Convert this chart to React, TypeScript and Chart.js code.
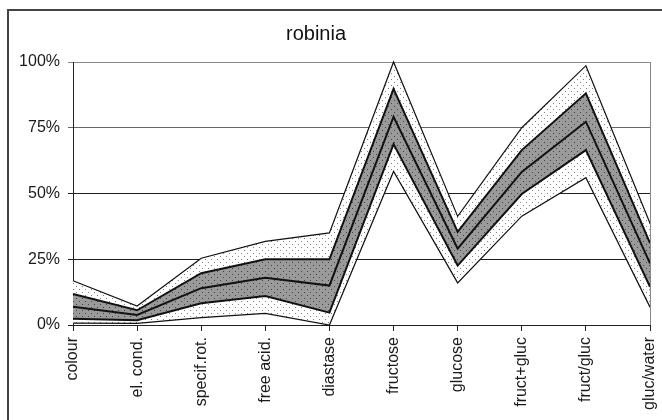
import React, { useEffect, useRef } from "react";
import { Chart, registerables } from "chart.js";

Chart.register(...registerables);

const categories = ["colour", "el. cond.", "specif.rot.", "free acid.", "diastase", "fructose", "glucose", "fruct+gluc", "fruct/gluc", "gluc/water"];
const maxValues = [16.8, 7.2, 25.4, 31.8, 35, 100, 41.3, 75, 98.6, 38.7];
const upperValues = [11.8, 5.6, 19.7, 25, 25, 89.8, 35.4, 66.5, 88.1, 31.1];
const medianValues = [6.9, 3.8, 14, 18, 15, 79.2, 29, 58.2, 77.3, 23.4];
const lowerValues = [2.4, 1.8, 8.3, 11, 4.7, 68.8, 22.6, 49.8, 66.5, 14.5];
const minValues = [0.7, 0.6, 2.8, 4.4, 0, 58.4, 16, 41.4, 56, 6.8];
const yTicks = [0, 25, 50, 75, 100];
const title = "robinia";

function makePattern(bg: string, dot: string, size: number): CanvasPattern | string {
  const c = document.createElement("canvas");
  c.width = 6;
  c.height = 6;
  const x = c.getContext("2d");
  if (!x) return bg;
  x.fillStyle = bg;
  x.fillRect(0, 0, 6, 6);
  x.fillStyle = dot;
  x.fillRect(1, 1, size, size);
  x.fillRect(4, 4, size, size);
  const p = x.createPattern(c, "repeat");
  return p || bg;
}

export default function App() {
  const ref = useRef<HTMLCanvasElement | null>(null);
  useEffect(() => {
    if (!ref.current) return;
    const outer = makePattern("#ffffff", "#808080", 1);
    const inner = makePattern("#9a9a9a", "#444444", 1);
    const font = "'Liberation Sans', Arial, sans-serif";
    const decor = {
      id: "decor",
      afterDraw(chart: any) {
        const ctx = chart.ctx;
        const a = chart.chartArea;
        ctx.save();
        ctx.strokeStyle = "#444";
        ctx.lineWidth = 2;
        ctx.strokeRect(8, 10, 700, 500);
        ctx.strokeStyle = "#888";
        ctx.lineWidth = 1;
        ctx.beginPath();
        ctx.moveTo(Math.round(a.right) + 0.5, a.top);
        ctx.lineTo(Math.round(a.right) + 0.5, a.bottom);
        ctx.stroke();
        ctx.fillStyle = "#111";
        ctx.font = `20px ${font}`;
        ctx.textAlign = "center";
        ctx.textBaseline = "alphabetic";
        ctx.fillText(title, 316, 40);
        ctx.restore();
      },
    };
    const common = { pointRadius: 0, tension: 0, clip: false as any, borderColor: "#111" };
    const chart = new Chart(ref.current, {
      type: "line",
      data: {
        labels: categories,
        datasets: [
          { ...common, label: "max", data: maxValues, borderWidth: 1.2, fill: { target: 1 }, backgroundColor: outer as any },
          { ...common, label: "q3", data: upperValues, borderWidth: 2, fill: { target: 3 }, backgroundColor: inner as any },
          { ...common, label: "median", data: medianValues, borderWidth: 2, fill: false },
          { ...common, label: "q1", data: lowerValues, borderWidth: 2, fill: { target: 4 }, backgroundColor: outer as any },
          { ...common, label: "min", data: minValues, borderWidth: 1.2, fill: false },
        ],
      },
      options: {
        animation: false,
        responsive: false,
        devicePixelRatio: 1,
        layout: { padding: { top: 62, right: 12, left: 0, bottom: 0 } },
        plugins: {
          legend: { display: false },
          tooltip: { enabled: false },
          title: { display: false },
          filler: { drawTime: "beforeDatasetsDraw", propagate: false },
        } as any,
        scales: {
          x: {
            type: "category",
            offset: false,
            afterFit: (s: any) => { s.height = 95; s.paddingRight = 0; s.paddingLeft = 0; },
            grid: { drawOnChartArea: false, drawTicks: true, tickLength: 6, color: "#222" },
            border: { color: "#222", width: 1 },
            ticks: { maxRotation: 90, minRotation: 90, autoSkip: false, padding: 6, color: "#1a1a1a", font: { size: 16, family: font } },
          },
          y: {
            min: 0,
            max: 100,
            afterFit: (s: any) => { s.width = 73; s.paddingTop = 0; s.paddingBottom = 0; },
            afterBuildTicks: (s: any) => { s.ticks = yTicks.map((v) => ({ value: v })); },
            grid: {
              drawTicks: true,
              tickLength: 5,
              color: (c: any) => (c.tick && c.tick.value === 100 ? "#8a8a8a" : c.tick && c.tick.value === 75 ? "#666" : "#222"),
            },
            border: { color: "#222", width: 1 },
            ticks: { padding: 8, color: "#1a1a1a", font: { size: 16, family: font }, callback: (v: any) => `${v}%` },
          },
        },
      },
      plugins: [decor],
    });
    return () => chart.destroy();
  }, []);
  return (
    <div style={{ position: "fixed", left: 0, top: 0, width: 662, height: 420, background: "#fff" }}>
      <canvas ref={ref} width={662} height={420} style={{ display: "block" }} />
    </div>
  );
}
